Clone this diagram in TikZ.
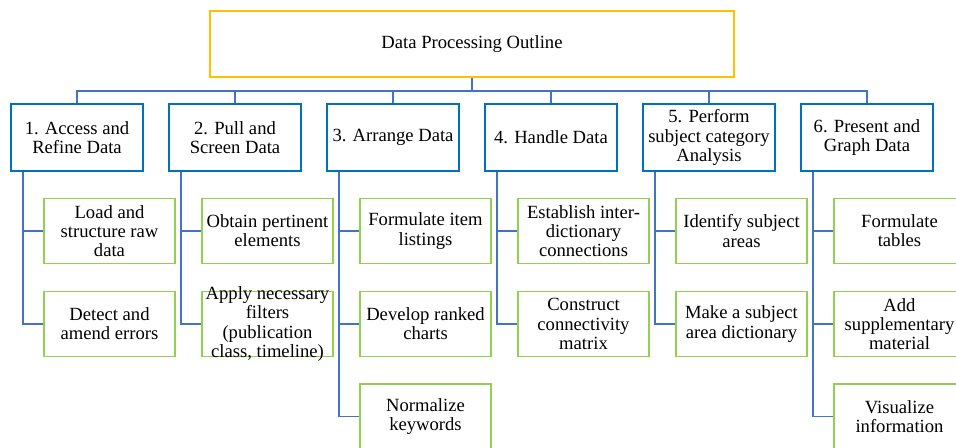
\documentclass[tikz,border=0pt]{standalone}
\usepackage{fontspec}
\setmainfont{Liberation Serif}
\usetikzlibrary{calc}
\definecolor{outlineyellow}{HTML}{FFC000}
\definecolor{stepblue}{HTML}{0070C0}
\definecolor{linkblue}{HTML}{4472C4}
\definecolor{taskgreen}{HTML}{92D050}
\tikzset{
	boxtext/.style={font=\fontsize{10.6}{10.9}\selectfont, align=center, inner sep=0pt},
	mainbox/.style={boxtext, draw=outlineyellow, line width=1.1pt, minimum width=10.5cm, minimum height=1.32cm},
	stepbox/.style={boxtext, draw=stepblue, line width=1.1pt, minimum width=2.64cm, minimum height=1.34cm},
	taskbox/.style={boxtext, draw=taskgreen, line width=1.1pt, minimum width=2.62cm, minimum height=1.3cm},
	link/.style={draw=linkblue, line width=0.8pt}
}

\begin{document}
\begin{tikzpicture}[x=0.02cm, y=-0.02cm]
			%%%%% START %%%%%
			\useasboundingbox (0, 0) rectangle (956, 447);
			
			\node[mainbox] (outline) at (472, 44) {Data Processing Outline};
			
			\node[stepbox] (s1) at (77, 137.5) {1. Access and\\Refine Data};
			\node[stepbox] (s2) at (235, 137.5) {2. Pull and\\Screen Data};
			\node[stepbox] (s3) at (393, 137.5) {3. Arrange Data};
			\node[stepbox] (s4) at (551, 137.5) {4. Handle Data};
			\node[stepbox] (s5) at (709, 137.5) {5. Perform\\subject category\\Analysis};
			\node[stepbox] (s6) at (867, 137.5) {6. Present and\\Graph Data};
			
			\coordinate (bus) at (472, 91);
			\draw[link] (outline.south) -- (bus);
			\draw[link] (bus) -| (s1.north);
			\draw[link] (bus) -| (s2.north);
			\draw[link] (bus) -| (s3.north);
			\draw[link] (bus) -| (s4.north);
			\draw[link] (bus) -| (s5.north);
			\draw[link] (bus) -| (s6.north);
			
			\node[taskbox] (t11) at (109.5, 231) {Load and\\structure raw\\data};
			\node[taskbox] (t12) at (109.5, 324) {Detect and\\amend errors};
			
			\node[taskbox] (t21) at (267.5, 231) {Obtain pertinent\\elements};
			\node[taskbox, label={[boxtext]center:Apply necessary\\filters\\(publication\\class, timeline)}] (t22) at (267.5, 324) {};
			
			\node[taskbox] (t31) at (425.5, 231) {Formulate item\\listings};
			\node[taskbox] (t32) at (425.5, 324) {Develop ranked\\charts};
			\node[taskbox] (t33) at (425.5, 416.5) {Normalize\\keywords};
			
			\node[taskbox] (t41) at (583.5, 231) {Establish inter-\\dictionary\\connections};
			\node[taskbox] (t42) at (583.5, 324) {Construct\\connectivity\\matrix};
			
			\node[taskbox] (t51) at (741.5, 231) {Identify subject\\areas};
			\node[taskbox] (t52) at (741.5, 324) {Make a subject\\area dictionary};
			
			\node[taskbox] (t61) at (899.5, 231) {Formulate\\tables};
			\node[taskbox] (t62) at (899.5, 324) {Add\\supplementary\\material};
			\node[taskbox] (t63) at (899.5, 416.5) {Visualize\\information};
			
			\coordinate (r1) at ([xshift=0.26cm]s1.south west);
			\coordinate (r2) at ([xshift=0.26cm]s2.south west);
			\coordinate (r3) at ([xshift=0.26cm]s3.south west);
			\coordinate (r4) at ([xshift=0.26cm]s4.south west);
			\coordinate (r5) at ([xshift=0.26cm]s5.south west);
			\coordinate (r6) at ([xshift=0.26cm]s6.south west);
			
			\draw[link] (r1) |- (t11.west);
			\draw[link] (r1) |- (t12.west);
			\draw[link] (r2) |- (t21.west);
			\draw[link] (r2) |- (t22.west);
			\draw[link] (r3) |- (t31.west);
			\draw[link] (r3) |- (t32.west);
			\draw[link] (r3) |- (t33.west);
			\draw[link] (r4) |- (t41.west);
			\draw[link] (r4) |- (t42.west);
			\draw[link] (r5) |- (t51.west);
			\draw[link] (r5) |- (t52.west);
			\draw[link] (r6) |- (t61.west);
			\draw[link] (r6) |- (t62.west);
			\draw[link] (r6) |- (t63.west);
			
			%%%%% END %%%%%
		\end{tikzpicture}
\end{document}
